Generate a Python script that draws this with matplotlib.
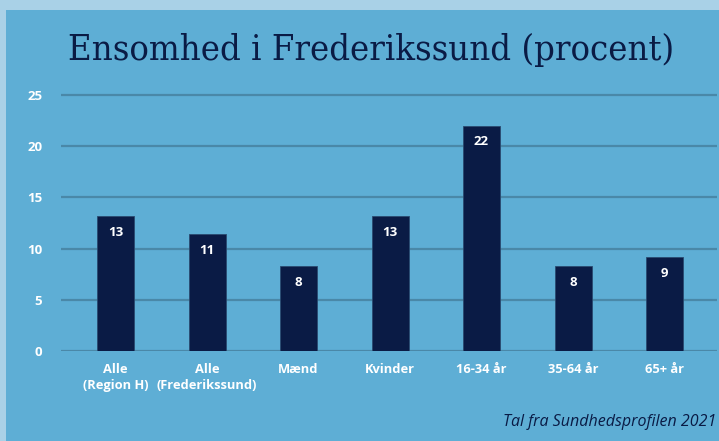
import matplotlib.pyplot as plt
from matplotlib.patches import Rectangle

categories = ['Alle\n(Region H)', 'Alle\n(Frederikssund)', 'Mænd', 'Kvinder',
              '16-34 år', '35-64 år', '65+ år']
values = [13.2, 11.4, 8.3, 13.2, 22.0, 8.3, 9.2]
labels = ['13', '11', '8', '13', '22', '8', '9']
yticks = [0, 5, 10, 15, 20, 25]

W, H = 719, 441
outer = '#a9d1e7'
panel = '#5eaed5'
navy = '#0a1b45'
gridc = '#4a88a8'

fig = plt.figure(figsize=(W / 100, H / 100), dpi=100)
fig.patch.set_facecolor(outer)
fig.patches.append(Rectangle((6 / W, 0), 1, (H - 10) / H, transform=fig.transFigure,
                             facecolor=panel, edgecolor='none', zorder=-5))

# axes in pixel units: x 61..717, zero at y=351, 10.24 px per unit
ppu = 10.24
ytop = 26
ax = fig.add_axes([61 / W, (H - 351) / H, 656 / W, ytop * ppu / H])
ax.set_facecolor('none')
ax.set_ylim(0, ytop)
step = 91.5
ax.set_xlim(-(115.5 - 61) / step, (717 - 115.5) / step)

for t in yticks:
    ax.axhline(t, color=gridc, lw=1.6, zorder=1)

x = range(len(values))
ax.bar(x, values, width=37 / step, color=navy, edgecolor='#2a4a70', linewidth=0.6, zorder=2)
for i, (v, lab) in enumerate(zip(values, labels)):
    ax.text(i, v - 0.95, lab, ha='center', va='top', color='white',
            fontsize=9.5, fontweight='bold', family='Open Sans', zorder=3)

for s in ax.spines.values():
    s.set_visible(False)
ax.set_yticks(yticks)
ax.set_yticklabels([str(t) for t in yticks], color='white', fontsize=9.5,
                   fontweight='bold', family='Open Sans')
ax.tick_params(axis='y', length=0, pad=13.5)
ax.set_xticks(list(x))
ax.set_xticklabels(categories, color='white', fontsize=9.3, fontweight='bold',
                   family='Open Sans', linespacing=1.3)
ax.tick_params(axis='x', length=0, pad=8.5)

fig.text(371 / W, 1 - 50 / H, 'Ensomhed i Frederikssund (procent)', ha='center', va='center',
         color=navy, fontsize=26, family='DejaVu Serif', fontstretch='condensed')
fig.text(716 / W, 1 - 422 / H, 'Tal fra Sundhedsprofilen 2021', ha='right', va='center',
         color=navy, fontsize=11.5, style='italic', family='Open Sans')

fig.savefig('out.png', dpi=100, facecolor=fig.get_facecolor())
